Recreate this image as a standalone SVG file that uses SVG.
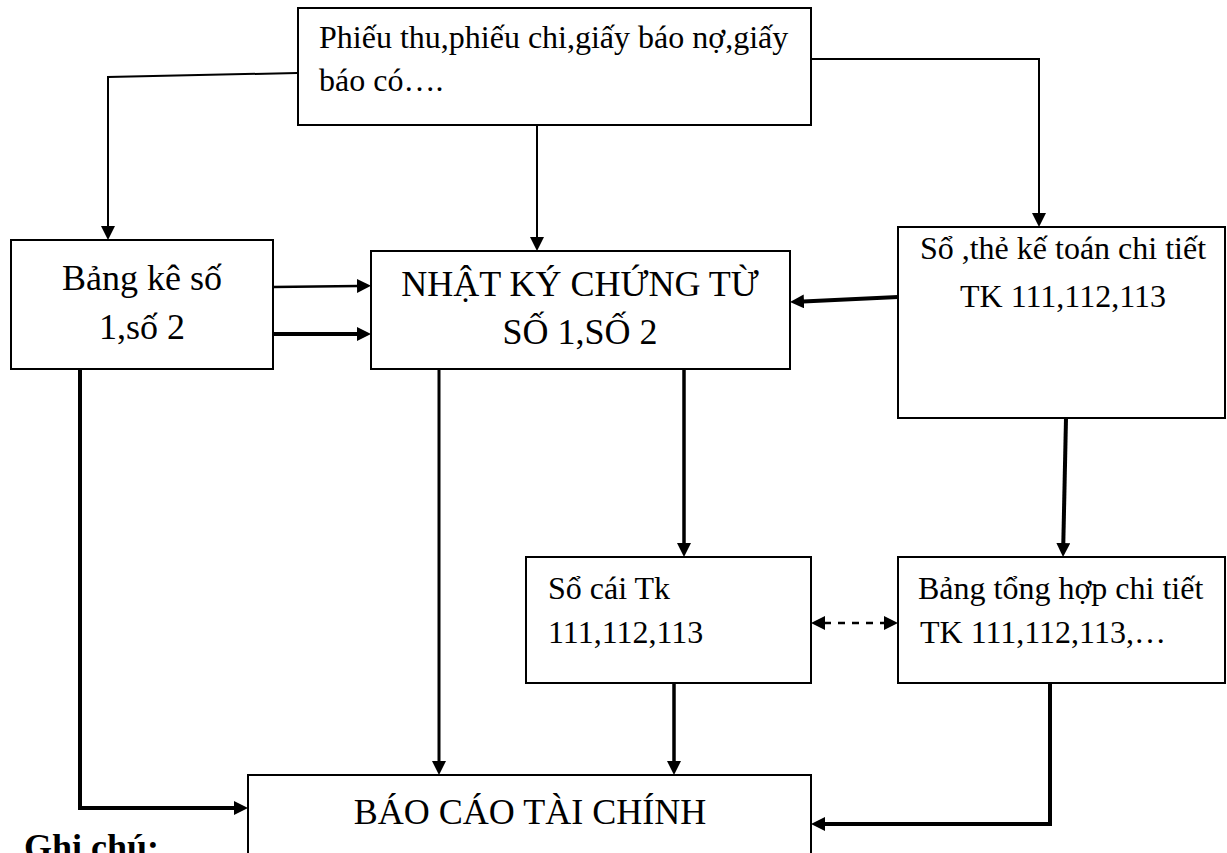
<svg xmlns="http://www.w3.org/2000/svg" width="1227" height="853" viewBox="0 0 1227 853">
<style>
.box{fill:#fff;stroke:#000;stroke-width:2}
.t{font-family:"Liberation Serif","Times New Roman",serif;fill:#000}
.s32{font-size:32px}
.s36{font-size:36px}
.c{text-anchor:middle}
.ln{fill:none;stroke:#000;stroke-linejoin:miter}
</style>
<defs>
<marker id="ah" markerUnits="userSpaceOnUse" markerWidth="16" markerHeight="16" refX="1" refY="7" orient="auto-start-reverse">
<path d="M0,0 L14,7 L0,14 z" fill="#000"/>
</marker>
</defs>
<rect width="1227" height="853" fill="#fff"/>
<g id="connectors">
<path class="ln" stroke-width="2" d="M297,73 L108,77 L108,227" marker-end="url(#ah)"/>
<path class="ln" stroke-width="2" d="M537,125 L537,238" marker-end="url(#ah)"/>
<path class="ln" stroke-width="2" d="M811,59 L1039,59 L1039,214" marker-end="url(#ah)"/>
<path class="ln" stroke-width="2.5" d="M273,287 L358,286" marker-end="url(#ah)"/>
<path class="ln" stroke-width="4" d="M273,334 L358,334" marker-end="url(#ah)"/>
<path class="ln" stroke-width="4" d="M898,297 L803,301.5" marker-end="url(#ah)"/>
<path class="ln" stroke-width="4" d="M80,369 L80,808 L235,808" marker-end="url(#ah)"/>
<path class="ln" stroke-width="3" d="M439,369 L439,762" marker-end="url(#ah)"/>
<path class="ln" stroke-width="3.5" d="M684,369 L684,544" marker-end="url(#ah)"/>
<path class="ln" stroke-width="4" d="M1066,418 L1063.3,544" marker-end="url(#ah)"/>
<path class="ln" stroke-width="2.5" stroke-dasharray="7,7" d="M824,623 L885,623" marker-start="url(#ah)" marker-end="url(#ah)"/>
<path class="ln" stroke-width="3.5" d="M674,683 L674,762" marker-end="url(#ah)"/>
<path class="ln" stroke-width="4" d="M1050,683 L1050,824 L824,824" marker-end="url(#ah)"/>
</g>
<g id="n-chungtu">
<rect class="box" x="298" y="8" width="513" height="117"/>
<text class="t s32" x="319" y="48">Phiếu thu,phiếu chi,giấy báo nợ,giấy</text>
<text class="t s32" x="319" y="91">báo có….</text>
</g>
<g id="n-bangke">
<rect class="box" x="11" y="240" width="262" height="129"/>
<text class="t s36 c" x="142" y="290">Bảng kê số</text>
<text class="t s36 c" x="142" y="339">1,số 2</text>
</g>
<g id="n-nhatky">
<rect class="box" x="371" y="251" width="419" height="118"/>
<text class="t s36 c" x="580" y="296">NHẬT KÝ CHỨNG TỪ</text>
<text class="t s36 c" x="580" y="344">SỐ 1,SỐ 2</text>
</g>
<g id="n-sothe">
<rect class="box" x="898" y="227" width="327" height="191"/>
<text class="t s32 c" x="1063" y="259">Sổ ,thẻ kế toán chi tiết</text>
<text class="t s32 c" x="1063" y="307">TK 111,112,113</text>
</g>
<g id="n-socai">
<rect class="box" x="526" y="557" width="285" height="126"/>
<text class="t s32" x="548" y="599">Sổ cái Tk</text>
<text class="t s32" x="548" y="643">111,112,113</text>
</g>
<g id="n-tonghop">
<rect class="box" x="898" y="557" width="327" height="126"/>
<text class="t s32" x="918" y="599">Bảng tổng hợp chi tiết</text>
<text class="t s32" x="920" y="643">TK 111,112,113,…</text>
</g>
<g id="n-baocao">
<rect class="box" x="248" y="775" width="563" height="90"/>
<text class="t s36 c" x="530" y="824">BÁO CÁO TÀI CHÍNH</text>
</g>
<text class="t" x="24" y="859" font-size="36" font-weight="bold">Ghi chú:</text>
</svg>
